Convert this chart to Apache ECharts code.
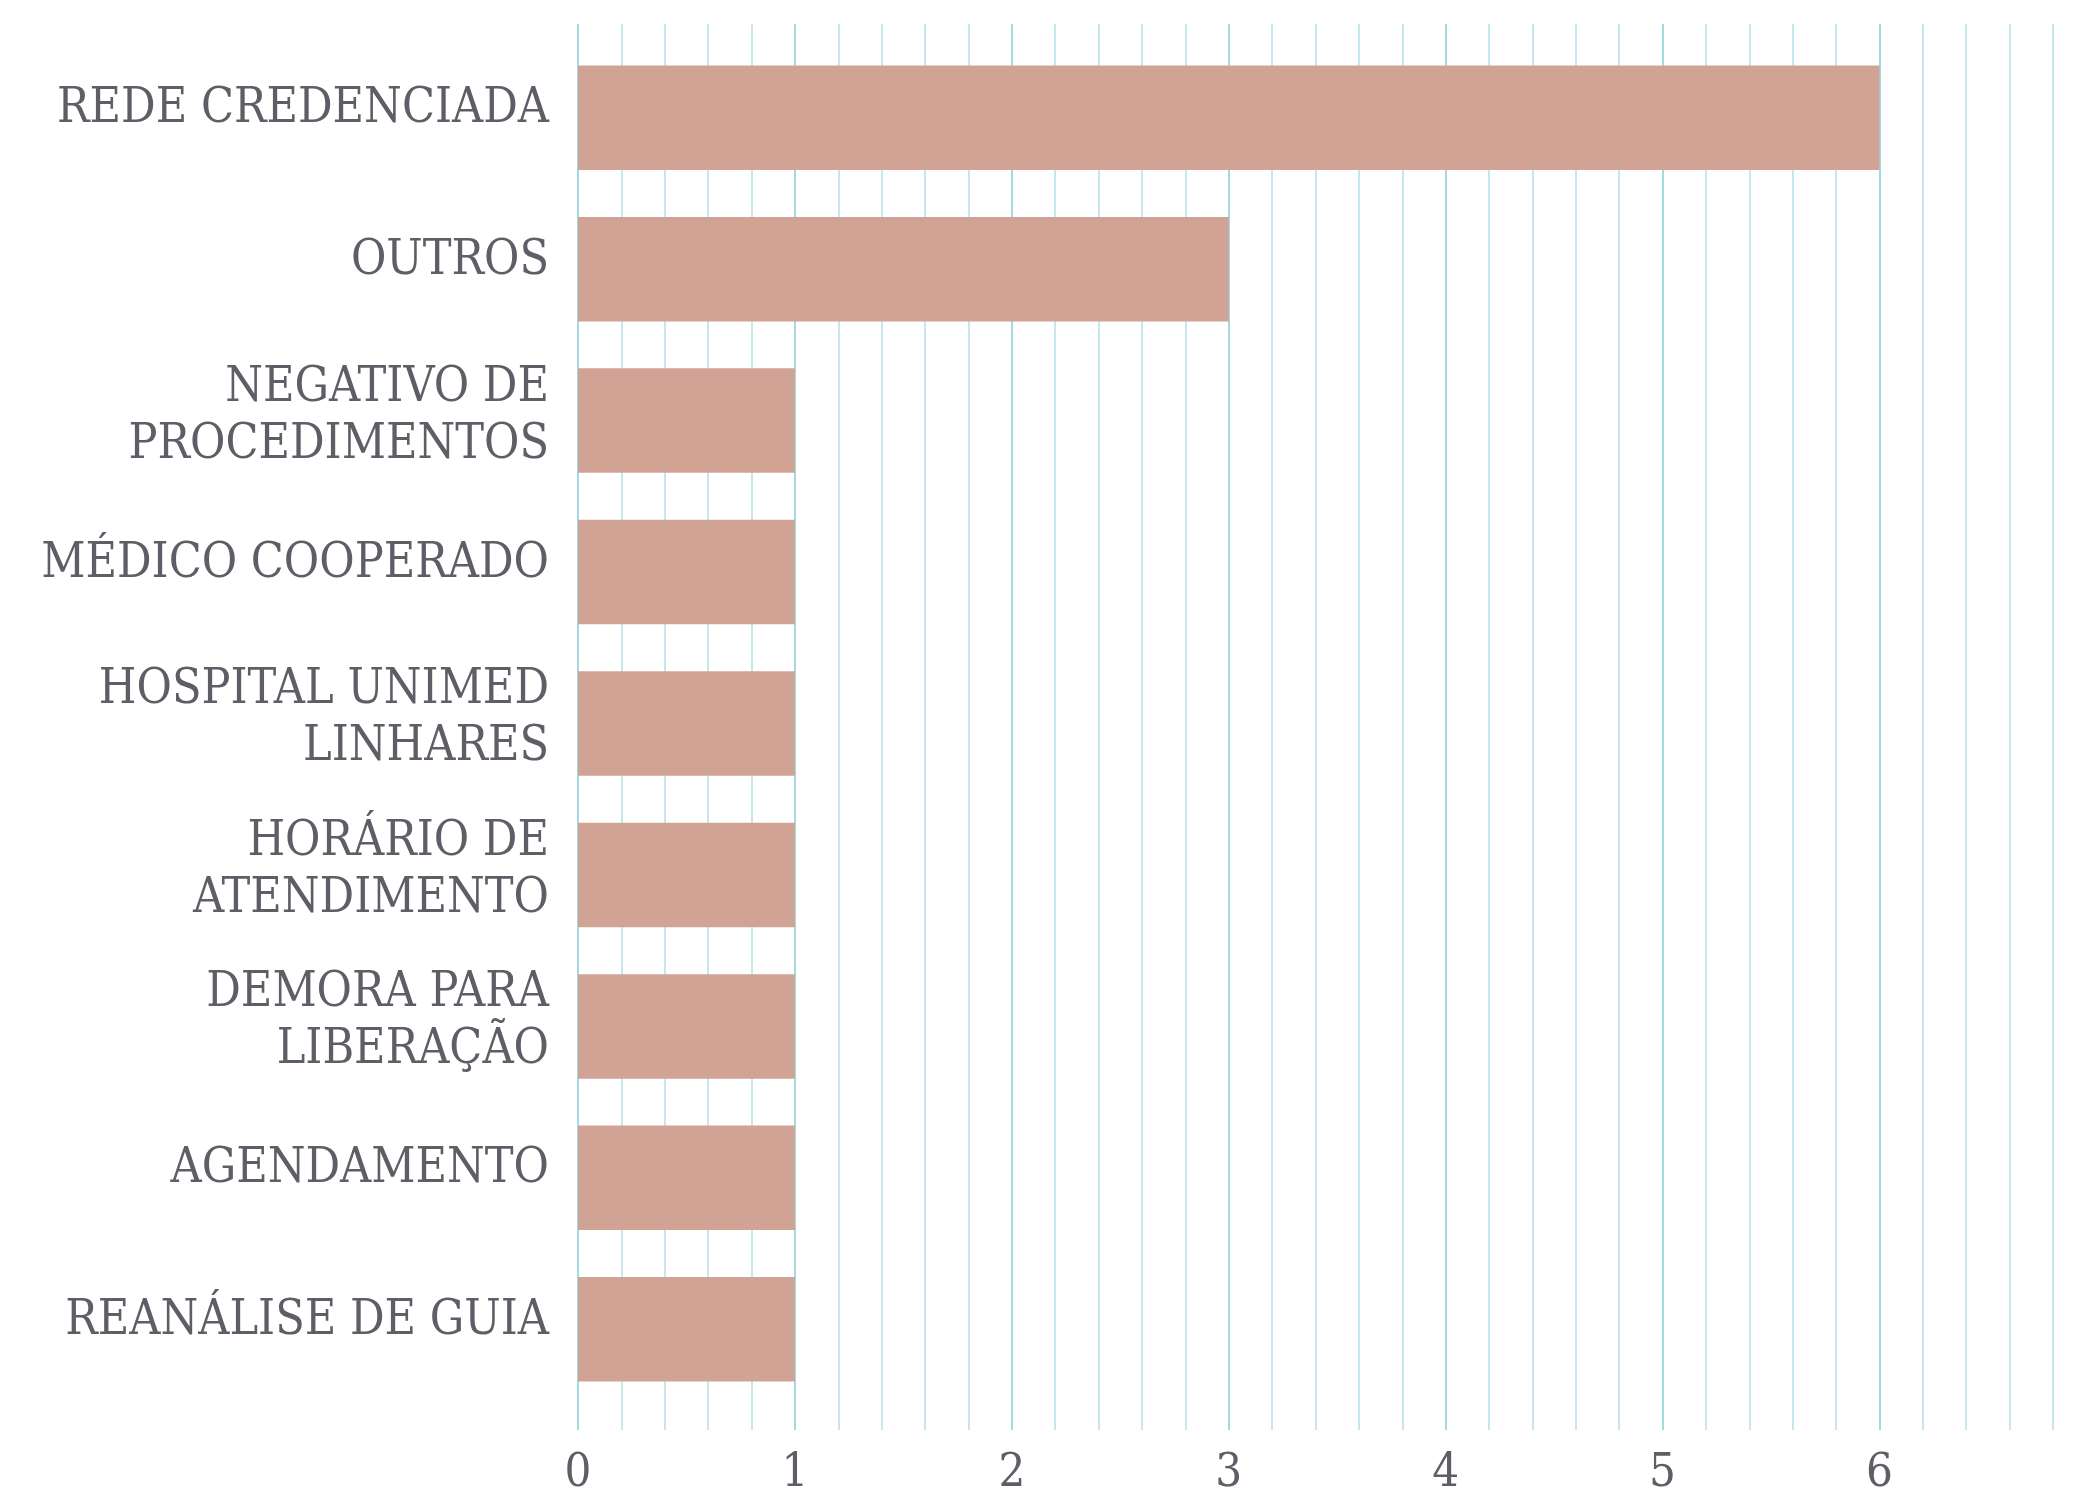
<!DOCTYPE html>
<html>
<head>
<meta charset="utf-8">
<script src="https://cdn.jsdelivr.net/npm/echarts@6/dist/echarts.min.js"></script>
<style>
  html, body { margin: 0; padding: 0; background: #fff; }
  #chart { width: 2080px; height: 1487px; }
</style>
</head>
<body>
<div id="chart"></div>
<script>
const categories = [
  'REDE CREDENCIADA',
  'OUTROS',
  'NEGATIVO DE\nPROCEDIMENTOS',
  'MÉDICO COOPERADO',
  'HOSPITAL UNIMED\nLINHARES',
  'HORÁRIO DE\nATENDIMENTO',
  'DEMORA PARA\nLIBERAÇÃO',
  'AGENDAMENTO',
  'REANÁLISE DE GUIA'
]
const counts = [6, 3, 1, 1, 1, 1, 1, 1, 1]
const axisMax = 6.8

const textColor = '#5f5e67'
const fontFamily = '"DejaVu Serif Condensed", "DejaVu Serif", serif'

let myChart = echarts.init(document.getElementById('chart'))
let option = {
  animation: false,
  grid: [
    // bars
    { left: 578, right: 27, top: 42, bottom: 82, outerBoundsMode: 'none' },
    // gridlines, a bit taller than the bars area
    { left: 578, right: 27, top: 24, bottom: 57, outerBoundsMode: 'none' }
  ],
  xAxis: [
    {
      type: 'value', gridIndex: 0, min: 0, max: axisMax,
      show: false, splitLine: { show: false }
    },
    {
      type: 'value', gridIndex: 1, min: 0, max: axisMax, interval: 0.2,
      axisLine: { show: false },
      axisTick: { show: false },
      axisLabel: {
        margin: 20,
        color: textColor,
        fontFamily: fontFamily,
        fontSize: 47,
        formatter: function (v) {
          return Math.abs(v - Math.round(v)) < 1e-6 ? String(Math.round(v)) : ''
        }
      },
      splitLine: {
        show: true,
        lineStyle: {
          color: ['#86ccd5', '#b3e1e6', '#b3e1e6', '#b3e1e6', '#b3e1e6'],
          width: 1.5
        }
      }
    }
  ],
  yAxis: [
    {
      type: 'category', gridIndex: 0, data: categories, inverse: true,
      axisLine: { show: false },
      axisTick: { show: false },
      axisLabel: {
        margin: 29,
        color: textColor,
        fontFamily: fontFamily,
        fontSize: 48,
        lineHeight: 57,
        align: 'right',
        // small empty line underneath nudges the text up like in the original
        formatter: function (v) {
          return v.indexOf('\n') >= 0 ? v + '\n{gap2| }' : v + '\n{gap1| }'
        },
        rich: {
          gap1: { fontSize: 4, lineHeight: 16 },
          gap2: { fontSize: 4, lineHeight: 8 }
        }
      }
    },
    { type: 'category', gridIndex: 1, show: false, data: [] }
  ],
  series: [
    {
      name: 'Total',
      type: 'bar',
      xAxisIndex: 0,
      yAxisIndex: 0,
      data: counts,
      barCategoryGap: '31%',
      itemStyle: { color: '#d1a394' }
    }
  ]
}
myChart.setOption(option)
</script>
</body>
</html>
